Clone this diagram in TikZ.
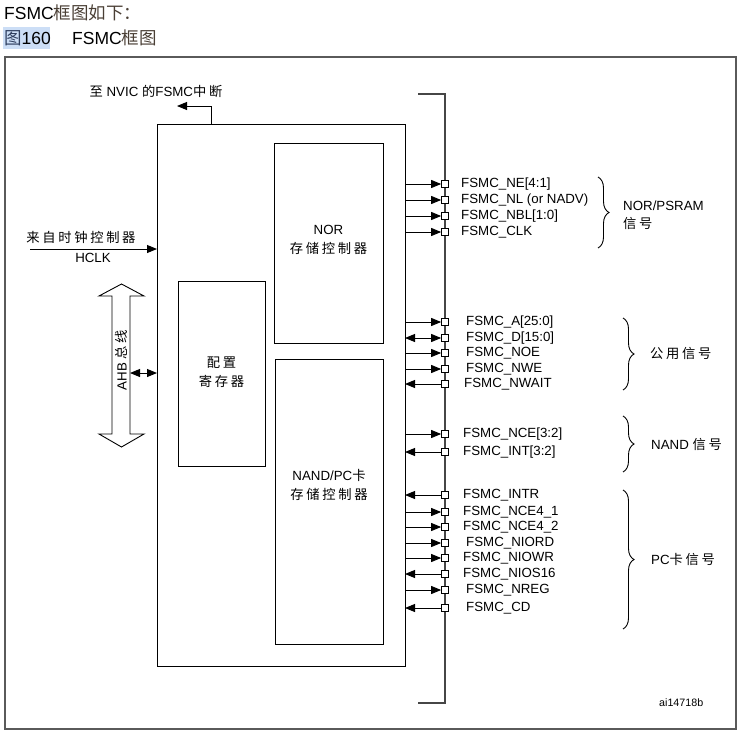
\documentclass[tikz,border=0pt]{standalone}
\usepackage{fontspec}
\setmainfont{Liberation Sans}
\newfontfamily\cjk[LetterSpace=20]{Noto Sans CJK SC}
\newfontfamily\cjkh{Noto Sans CJK SC}
\usetikzlibrary{arrows.meta,decorations.pathreplacing,calc}
\begin{document}
\begin{tikzpicture}[x=1pt,y=-1pt,
  box/.style={draw=black, line width=0.9pt, inner sep=0pt, outer sep=0pt, anchor=north west},
  sigo/.style={-{Triangle[length=10pt,width=8pt]}, line width=0.9pt},
  sigi/.style={{Triangle[length=10pt,width=8pt]}-, line width=0.9pt},
  sigb/.style={{Triangle[length=10pt,width=8pt]}-{Triangle[length=10pt,width=8pt]}, line width=0.9pt},
  pin/.style={draw=black, fill=white, line width=0.7pt, minimum size=7pt, inner sep=0pt},
  lab/.style={anchor=west, inner sep=0pt, font=\fontsize{13.3}{15}\selectfont},
  small/.style={anchor=west, inner sep=0pt, font=\fontsize{10.7}{12}\selectfont},
  txt/.style={inner sep=0pt, font=\fontsize{13.3}{17}\selectfont, align=center},
  brc/.style={decorate, decoration={brace, amplitude=11pt, aspect=0.5}, line width=0.9pt}
]
\path[use as bounding box] (0,0) rectangle (744,739);

% header
\node[anchor=west, inner sep=0pt, font=\fontsize{17.5}{20}\selectfont] (h1) at (4,13)
  {FSMC\textcolor[HTML]{4A3F35}{\cjkh 框图如下：}};
\fill[fill={rgb,255:red,204;green,222;blue,246}] (3,27) rectangle (50,49);
\node[anchor=west, inner sep=0pt, font=\fontsize{17.5}{20}\selectfont] (h2) at (4,38)
  {\textcolor[HTML]{2F3F5F}{\cjkh 图}160};
\node[anchor=west, inner sep=0pt, font=\fontsize{17.5}{20}\selectfont] (h3) at (72,38)
  {FSMC\textcolor[HTML]{4A3F35}{\cjkh 框图}};

% outer frame
\draw[draw={rgb,255:red,90;green,90;blue,90}, line width=1.6pt] (5,57) rectangle (736,729);

% main blocks
\node[box, minimum width=248pt, minimum height=542pt] (fsmc) at (157,124) {};
\node[box, minimum width=109pt, minimum height=200pt] (nor) at (274,143) {};
\node[box, minimum width=108pt, minimum height=285pt] (nand) at (275,359) {};
\node[box, minimum width=87pt, minimum height=185pt] (cfg) at (178,281) {};

\node[txt] (norlab) at (328.5,240) {NOR\\[2pt]{\cjk 存储控制器}};
\node[txt] (nandlab) at (329,485) {NAND/PC{\cjk 卡}\\[2pt]{\cjk 存储控制器}};
\node[txt] (cfglab) at (221.5,372) {{\cjk 配置}\\[2pt]{\cjk 寄存器}};

% interrupt output
\coordinate (irq) at (211,124);
\coordinate (nvic) at (177,106);
\draw[line width=0.9pt, -{Triangle[length=10pt,width=8pt]}] (irq) |- (nvic);
\node[txt, anchor=center] (nviclab) at (156,91) {{\cjk 至} NVIC {\cjk 的}FSMC{\cjk 中断}};

% HCLK
\coordinate (hclkin) at (30,249);
\draw[sigo] (hclkin) -- (fsmc.west |- hclkin);
\node[txt] (hclktop) at (81,237) {\cjk 来自时钟控制器};
\node[txt] (hclk) at (93,258) {HCLK};

% AHB bus hollow double arrow
\draw[line width=0.9pt, fill=white] (121.5,284) -- (144,296) -- (130,296) -- (130,434) -- (144,434)
  -- (121.5,447) -- (99,434) -- (112,434) -- (112,296) -- (99,296) -- cycle;
\coordinate (ahb) at (130,373);
\node[txt, rotate=90] (ahblab) at (121.5,360) {AHB {\cjk 总线}};
\draw[sigb] (ahb) -- (fsmc.west |- ahb);

% external bus line
\coordinate (bt) at (418,94);
\coordinate (bb) at (418,703);
\draw[draw={rgb,255:red,70;green,70;blue,70}, line width=1.3pt] (bt) -- (445,94) -- (445,703) -- (bb);

% signals
\foreach \y/\lab/\st/\lx [count=\i] in {
  184/FSMC\_NE[4:1]/sigo/461,
  200/FSMC\_NL (or NADV)/sigo/461,
  216/FSMC\_NBL[1:0]/sigo/461,
  232/FSMC\_CLK/sigo/461,
  322/FSMC\_A[25:0]/sigo/466,
  338/FSMC\_D[15:0]/sigb/466,
  353/FSMC\_NOE/sigo/466,
  369/FSMC\_NWE/sigo/466,
  384/FSMC\_NWAIT/sigi/464,
  434/FSMC\_NCE[3:2]/sigo/463,
  452/FSMC\_INT[3:2]/sigi/463,
  495/FSMC\_INTR/sigi/463,
  512/FSMC\_NCE4\_1/sigo/463,
  527/FSMC\_NCE4\_2/sigo/463,
  543/FSMC\_NIORD/sigo/466,
  558/FSMC\_NIOWR/sigo/463,
  574/FSMC\_NIOS16/sigi/463,
  590/FSMC\_NREG/sigo/466,
  608/FSMC\_CD/sigi/466}{
  \node[pin] (s\i) at (445,\y) {};
  \draw[\st] (fsmc.east |- s\i) -- (s\i.west);
  \node[lab] (l\i) at (\lx,\y) {\lab};
}

% braces and group labels
\draw[brc] (598,177) -- (598,248);
\node[txt, anchor=west, align=left] (g1) at (623,215) {NOR/PSRAM\\[1pt]{\cjk 信号}};
\draw[brc] (623,318) -- (623,390);
\node[txt, anchor=west] (g2) at (650,353) {\cjk 公用信号};
\draw[brc] (623,416) -- (623,472);
\node[txt, anchor=west] (g3) at (651,444) {NAND {\cjk 信号}};
\draw[brc] (623,490) -- (623,629);
\node[txt, anchor=west] (g4) at (651,559) {PC{\cjk 卡信号}};

\node[small] (code) at (659,703) {ai14718b};
\end{tikzpicture}
\end{document}
